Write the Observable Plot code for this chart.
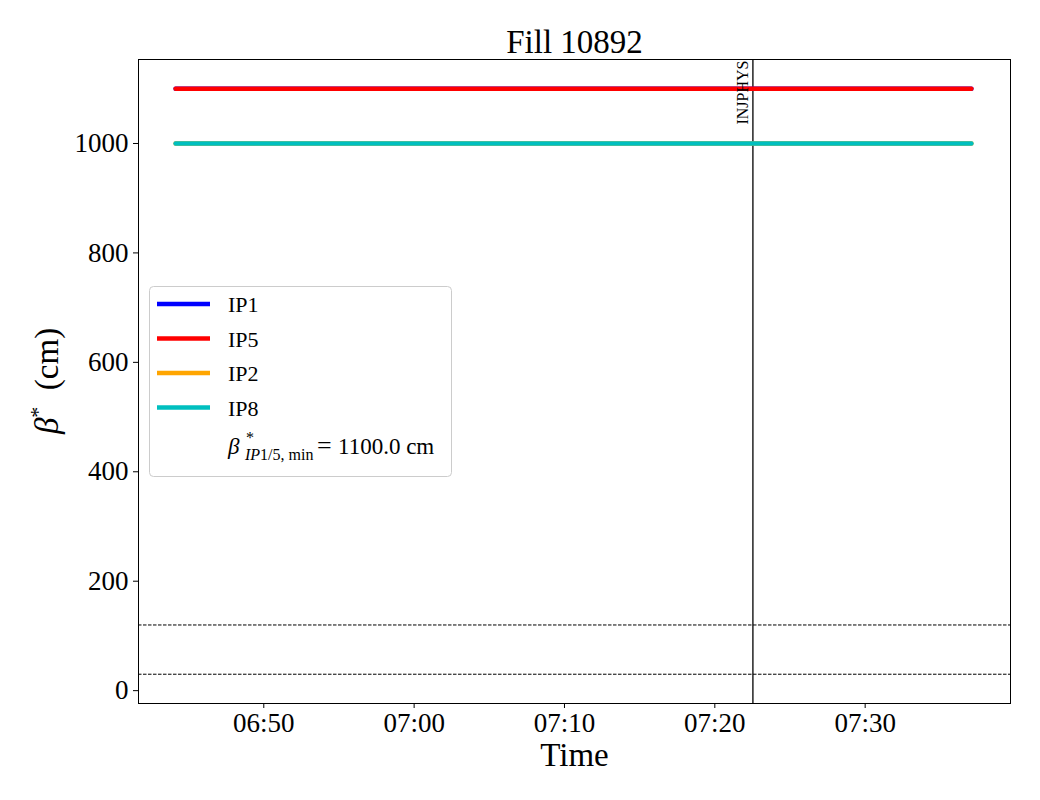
<!DOCTYPE html>
<html><head><meta charset="utf-8">
<script src="https://cdn.jsdelivr.net/npm/d3@7"></script>
<script src="https://cdn.jsdelivr.net/npm/@observablehq/plot@0.6"></script>
<style>body{margin:0;background:#fff} #chart{position:relative;width:1040px;height:800px}</style>
</head><body><div id="chart"></div>
<script>
// ---- data ----
const day = "2025-07-20T";
const title = "Fill 10892";
const times = ["06:44:08", "07:37:04"];
const seriesNames = ["IP1", "IP5", "IP2", "IP8"];
const seriesColors = ["#0000ff", "#ff0000", "#ffa500", "#00bfbf"];
const ip1 = [1100, 1100];
const ip5 = [1100, 1100];
const ip2 = [1000, 1000];
const ip8 = [1000, 1000];
const refLevels = [120, 30];
const injTime = "07:22:32";
const injLabel = "INJPHYS";
const xTicks = ["06:50", "07:00", "07:10", "07:20", "07:30"];
const yTicks = [0, 200, 400, 600, 800, 1000];
const xDomain = ["06:41:40", "07:39:40"];
const yDomain = [-23.5, 1153.5];
const betaMin = 1100.0;

const T = s => new Date(day + (s.length === 5 ? s + ":00" : s) + "Z");
const seriesValues = [ip1, ip5, ip2, ip8];

const lineMarks = seriesNames.map((name, k) =>
  Plot.line(times.map((t, i) => ({time: T(t), value: seriesValues[k][i]})),
    {x: "time", y: "value", stroke: seriesColors[k], strokeWidth: 4.5}));

const font = "'Liberation Serif', 'DejaVu Serif', serif";

const plot = Plot.plot({
  width: 1040, height: 800,
  marginLeft: 138, marginRight: 30, marginTop: 59, marginBottom: 97,
  style: {fontFamily: font, fontSize: "27px", background: "#fff", color: "#000"},
  x: {type: "utc", domain: xDomain.map(T)},
  y: {domain: yDomain},
  marks: [
    Plot.ruleY(refLevels, {stroke: "#000", strokeWidth: 1, strokeDasharray: "3.5,1.5"}),
    Plot.ruleX([{t: T(injTime)}], {x: "t", stroke: "#000", strokeWidth: 1.3}),
    ...lineMarks,
    Plot.text([{t: T(injTime), label: injLabel}], {x: "t", text: "label", frameAnchor: "top", rotate: -90,
      textAnchor: "end", lineAnchor: "middle", dx: -10, dy: 1, fontSize: 16, fill: "#000"}),
    Plot.axisX({ticks: xTicks.map(T), tickFormat: d3.utcFormat("%H:%M"), tickSize: 5, tickPadding: 4,
      label: null, fontSize: 27}),
    Plot.axisY({ticks: yTicks, tickFormat: d3.format("d"), tickSize: 5, tickPadding: 5, label: null, fontSize: 27}),
    Plot.frame({stroke: "#000", strokeWidth: 1}),
    Plot.text([title], {frameAnchor: "top", dy: -17, lineAnchor: "middle", fontSize: 33, fill: "#000"}),
    Plot.text(["Time"], {frameAnchor: "bottom", dy: 52, lineAnchor: "middle", fontSize: 33, fill: "#000"})
  ]
});
document.getElementById("chart").appendChild(plot);

const svg = d3.select(plot);
// y label
const yl = svg.append("text").attr("transform", "translate(58,381) rotate(-90)")
  .attr("text-anchor", "middle").attr("font-size", 33).attr("font-family", font).attr("fill", "#000");
yl.append("tspan").attr("font-style", "italic").text("β");
yl.append("tspan").attr("font-size", 22).attr("dy", -13).text("*");
yl.append("tspan").attr("dy", 13).text("\u2002(cm)");

// legend
const lg = svg.append("g").attr("font-family", font).attr("fill", "#000").attr("text-anchor", "start");
lg.append("rect").attr("x", 149.5).attr("y", 286.5).attr("width", 302).attr("height", 190)
  .attr("rx", 4).attr("fill", "#fff").attr("fill-opacity", 0.8).attr("stroke", "#cccccc");
const rowY = [304, 338.5, 373, 407.5];
seriesNames.forEach((name, k) => {
  lg.append("line").attr("x1", 157).attr("x2", 210).attr("y1", rowY[k]).attr("y2", rowY[k])
    .attr("stroke", seriesColors[k]).attr("stroke-width", 4.5);
  lg.append("text").attr("x", 228).attr("y", rowY[k] + 8).attr("font-size", 22).attr("text-anchor", "start").text(name);
});
const bt = lg.append("text").attr("x", 228).attr("y", 454).attr("font-size", 23).attr("text-anchor", "start");
bt.append("tspan").attr("font-style", "italic").text("β");
bt.append("tspan").attr("x", 246).attr("y", 443).attr("font-size", 16).text("*");
bt.append("tspan").attr("x", 245).attr("y", 460).attr("font-size", 16).attr("font-style", "italic").text("IP");
bt.append("tspan").attr("font-size", 16).text("1/5, min");
bt.append("tspan").attr("x", 317).attr("y", 454).attr("font-size", 26).text("=");
bt.append("tspan").attr("x", 338).attr("y", 454).attr("font-size", 23).text(betaMin.toFixed(1) + " cm");
</script>
</body></html>
